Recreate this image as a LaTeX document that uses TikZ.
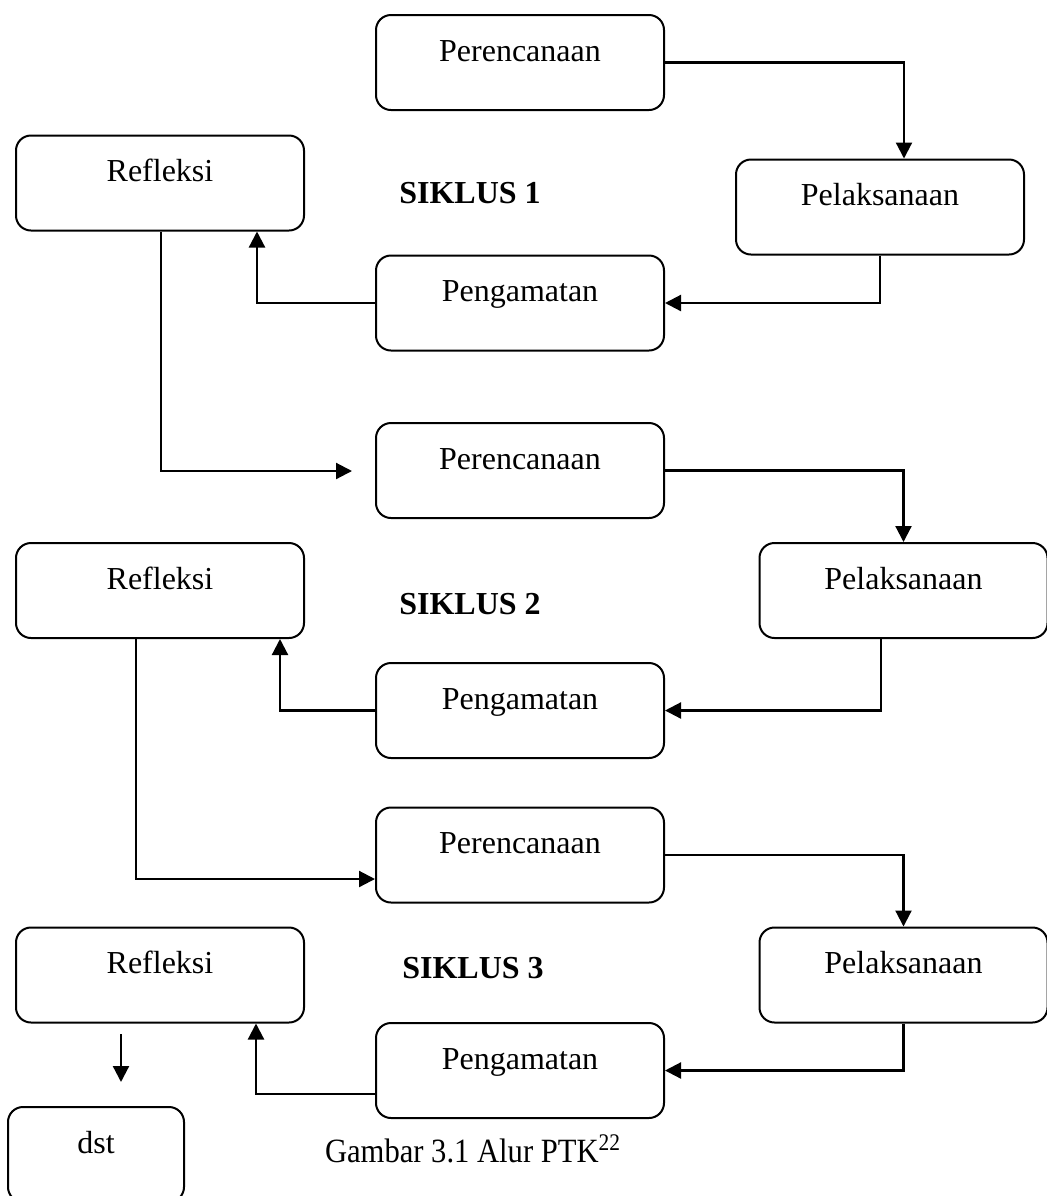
\documentclass[tikz,border=0pt]{standalone}
\usepackage{fontspec}
\setmainfont{Liberation Serif}
\usetikzlibrary{arrows.meta}
\begin{document}
\begin{tikzpicture}[x=0.5pt,y=-0.5pt,
  box/.style={draw,line width=1pt,rounded corners=7.5pt,minimum width=144pt,minimum height=47.5pt,inner sep=0pt,
    font=\fontsize{16}{19}\selectfont,text height=11pt,text depth=12.5pt},
  flow/.style={line width=1.1pt,-{Triangle[width=8pt,length=8pt]}},
  siklus/.style={font=\fontsize{16}{19}\selectfont\bfseries}]
\useasboundingbox (0,0) rectangle (1047,1196);
% siklus 1
\node[box] (p1) at (520,62.5) {Perencanaan};
\node[box] (r1) at (160,183) {Refleksi};
\node[box] (l1) at (880,207) {Pelaksanaan};
\node[box] (g1) at (520,303) {Pengamatan};
\node[siklus] (s1) at (470,193) {SIKLUS 1};
% siklus 2
\node[box] (p2) at (520,470.5) {Perencanaan};
\node[box] (r2) at (160,590.5) {Refleksi};
\node[box] (l2) at (903.5,590.5) {Pelaksanaan};
\node[box] (g2) at (520,710.5) {Pengamatan};
\node[siklus] (s2) at (470,604) {SIKLUS 2};
% siklus 3
\node[box] (p3) at (520,855) {Perencanaan};
\node[box] (r3) at (160,975) {Refleksi};
\node[box] (l3) at (903.5,975) {Pelaksanaan};
\node[box] (g3) at (520,1070.5) {Pengamatan};
\node[siklus] (s3) at (473,968) {SIKLUS 3};
\node[box,minimum width=88pt] (dst) at (96,1154.5) {dst};
\node (cap) at (473,1149) {\scalebox{0.9}[1]{\fontsize{17}{20}\selectfont Gambar 3.1 Alur PTK\textsuperscript{22}}};
\coordinate (r1end) at (352,471);
\coordinate (r3top) at (121,1034);
\coordinate (r3bot) at (121,1082);
% alur
\draw[flow] (p1.east) -| ([xshift=12pt]l1.north);
\draw[flow] (l1.south) |- (g1.east);
\draw[flow] (g1.west) -| ([xshift=48.5pt]r1.south);
\draw[flow] ([xshift=0.5pt]r1.south) |- (r1end);
\draw[flow] (p2.east) -| (l2.north);
\draw[flow] ([xshift=-11.25pt]l2.south) |- (g2.east);
\draw[flow] (g2.west) -| ([xshift=60pt]r2.south);
\draw[flow] ([xshift=-12pt]r2.south) |- ([yshift=-12pt]p3.west);
\draw[flow] (p3.east) -| (l3.north);
\draw[flow] (l3.south) |- (g3.east);
\draw[flow] ([yshift=-11.75pt]g3.west) -| ([xshift=48pt]r3.south);
\draw[flow] (r3top) -- (r3bot);
\end{tikzpicture}
\end{document}
